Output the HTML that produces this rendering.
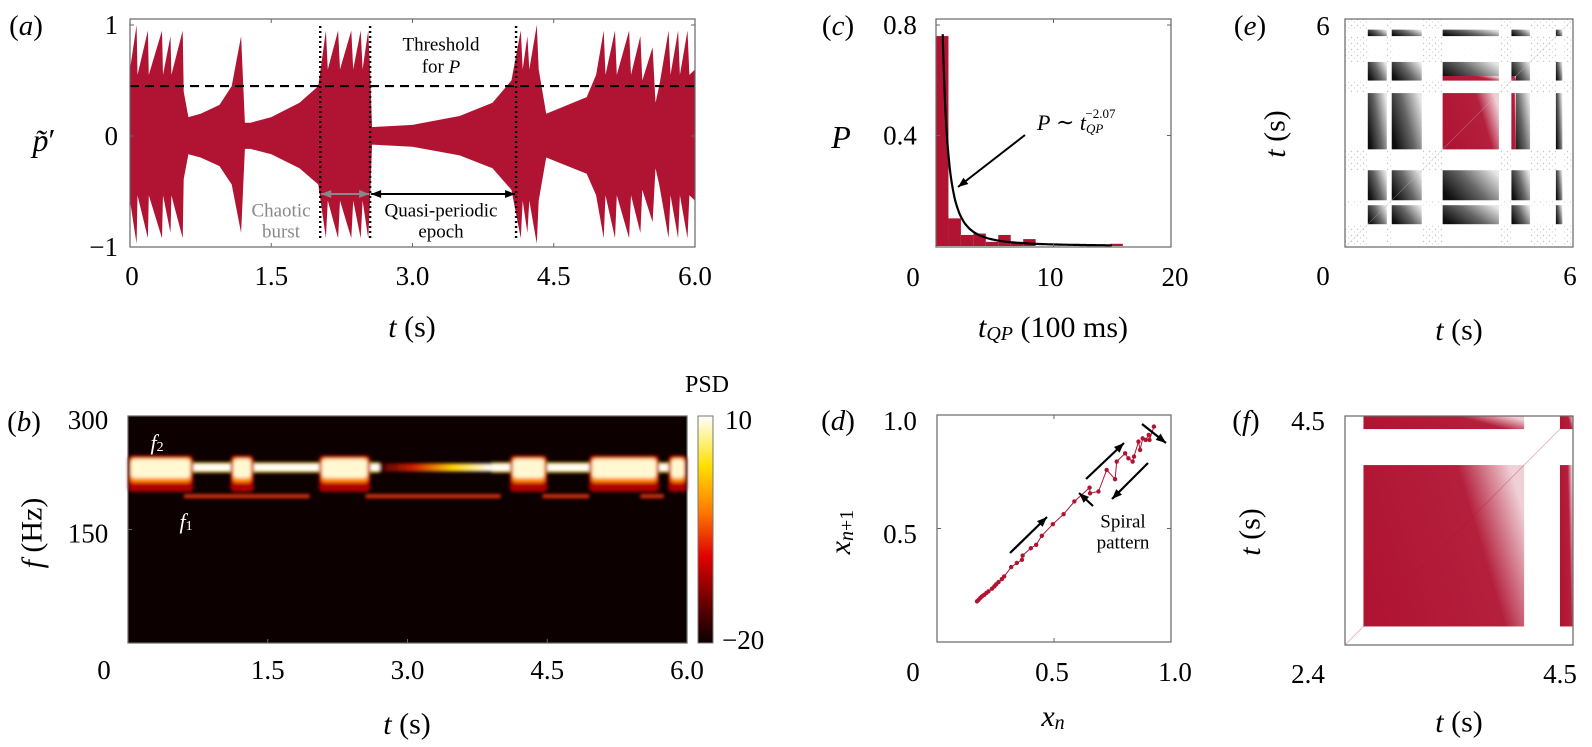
<!DOCTYPE html>
<html><head><meta charset="utf-8"><style>
html,body{margin:0;padding:0;background:#fff;}
svg{display:block;font-family:"Liberation Serif","DejaVu Serif",serif;}
text{font-family:"Liberation Serif","DejaVu Serif",serif;}
</style></head><body>
<svg id="fig" width="1592" height="747" viewBox="0 0 1592 747" xmlns="http://www.w3.org/2000/svg" font-family="Liberation Serif, serif">
<defs>
<linearGradient id="cbar" x1="0" y1="1" x2="0" y2="0">
<stop offset="0" stop-color="#0a0000"/><stop offset="0.15" stop-color="#5a0000"/>
<stop offset="0.38" stop-color="#e00000"/><stop offset="0.58" stop-color="#ff7a00"/>
<stop offset="0.78" stop-color="#ffe000"/><stop offset="1" stop-color="#ffffff"/>
</linearGradient>
<linearGradient id="qpfade" x1="0" y1="0" x2="1" y2="0">
<stop offset="0" stop-color="#4a0000"/><stop offset="0.3" stop-color="#d02000"/>
<stop offset="0.65" stop-color="#ffd000"/><stop offset="1" stop-color="#ffffff"/>
</linearGradient>
<linearGradient id="blkgrad" x1="0" y1="0.7" x2="1" y2="0.2">
<stop offset="0" stop-color="#000" stop-opacity="0.95"/><stop offset="0.5" stop-color="#000" stop-opacity="0.6"/>
<stop offset="1" stop-color="#000" stop-opacity="0.1"/>
</linearGradient>
<linearGradient id="redgrad" x1="0" y1="0.6" x2="1" y2="0.3">
<stop offset="0" stop-color="#b01432" stop-opacity="1"/><stop offset="0.7" stop-color="#b01432" stop-opacity="0.95"/>
<stop offset="1" stop-color="#b01432" stop-opacity="0.2"/>
</linearGradient>
<pattern id="speck" width="6" height="6" patternUnits="userSpaceOnUse">
<rect width="6" height="6" fill="#fff"/><circle cx="1.5" cy="1.5" r="0.7" fill="#c4c4c4"/><circle cx="4.5" cy="4" r="0.6" fill="#d0d0d0"/>
</pattern>
<filter id="blur1"><feGaussianBlur stdDeviation="1.6"/></filter>
</defs>
<g id="root"></g>
</svg>
<script>
// ---------- data ----------
// panel a: envelope knots [t (s), amplitude]
const envelopeKnots = [[0,0.6],[0.07,1.0],[0.08,0.55],[0.19,0.95],[0.2,0.55],[0.34,0.95],[0.35,0.55],[0.43,0.9],[0.44,0.55],[0.56,0.95],[0.57,0.4],[0.62,0.17],[0.75,0.2],[0.95,0.28],[1.08,0.45],[1.18,0.9],[1.22,0.12],[1.28,0.12],[1.5,0.17],[1.8,0.3],[2.0,0.45],[2.08,0.95],[2.1,0.6],[2.21,0.95],[2.23,0.6],[2.35,0.95],[2.37,0.6],[2.45,0.95],[2.47,0.6],[2.53,0.95],[2.55,0.6],[2.57,0.08],[3.0,0.1],[3.5,0.18],[3.85,0.3],[4.05,0.5],[4.15,0.95],[4.17,0.6],[4.22,0.9],[4.24,0.6],[4.32,1.0],[4.34,0.6],[4.42,0.2],[4.85,0.35],[4.95,0.55],[5.03,0.95],[5.05,0.55],[5.15,0.95],[5.17,0.55],[5.3,0.95],[5.32,0.55],[5.42,0.9],[5.44,0.5],[5.55,0.8],[5.58,0.3],[5.62,0.45],[5.72,0.95],[5.74,0.55],[5.82,0.95],[5.84,0.55],[5.92,0.95],[5.94,0.55],[6.0,0.6]];
const threshold = 0.45;
const epochMarks = [2.02, 2.55, 4.1];
const aTicksX = [0, 1.5, 3.0, 4.5, 6.0];
const aTickLabelsX = ["0", "1.5", "3.0", "4.5", "6.0"];
// panel b
const burstIntervals = [[0,0.7],[1.1,1.35],[2.05,2.6],[4.1,4.5],[4.95,5.7],[5.8,6.0]];
const f2Freq = 232;
const f1Freq = 194;
const f1Segments = [[0.6,1.95],[2.55,4.0],[4.45,4.95],[5.5,5.75]];
const f2WhiteSegs = [[0,2.7],[3.9,6.0]];
const f2FadeSeg = [2.7,3.9];
// panel c
const histBinWidth = 1.06;
const histValues = [0.76,0.10,0.04,0.045,0.015,0.04,0.015,0.025,0,0,0,0,0,0,0.008];
const fitExponent = -2.07;
const fitA = 0.72;
const fitShift = 0.4;
// panel d: return map points [x_n, x_{n+1}]
const mapPoints = [[0.171,0.179],[0.178,0.186],[0.185,0.194],[0.192,0.201],[0.202,0.208],[0.211,0.216],[0.22,0.223],[0.235,0.235],[0.245,0.245],[0.253,0.254],[0.263,0.264],[0.277,0.277],[0.287,0.289],[0.317,0.33],[0.341,0.348],[0.363,0.362],[0.366,0.381],[0.401,0.413],[0.424,0.428],[0.448,0.468],[0.495,0.519],[0.541,0.563],[0.587,0.619],[0.652,0.68],[0.654,0.655],[0.69,0.663],[0.725,0.758],[0.761,0.717],[0.768,0.795],[0.804,0.831],[0.818,0.809],[0.836,0.795],[0.842,0.817],[0.861,0.883],[0.868,0.846],[0.879,0.897],[0.892,0.89],[0.905,0.912],[0.908,0.89],[0.927,0.949]];
// panels e,f: quasi-periodic intervals (s)
const qpIntervals = [[0.6,1.1],[1.23,2.02],[2.57,4.05],[4.38,4.87],[5.55,5.72]];
const zoomWindow = [2.4, 4.5];

// ---------- helpers ----------
const NS = "http://www.w3.org/2000/svg";
const root = document.getElementById("root");
function el(tag, attrs, parent) {
  const e = document.createElementNS(NS, tag);
  for (const k in attrs) e.setAttribute(k, attrs[k]);
  (parent || root).appendChild(e);
  return e;
}
function lin(d0, d1, r0, r1) { return v => r0 + (v - d0) / (d1 - d0) * (r1 - r0); }
function txt(x, y, s, size, opts) {
  opts = opts || {};
  const t = el("text", {x: x, y: y, "font-size": size, "font-family": "Liberation Serif, DejaVu Serif, serif", "text-anchor": opts.anchor || "middle", "dominant-baseline": "central", fill: opts.fill || "#000"});
  if (opts.italic) t.setAttribute("font-style", "italic");
  if (opts.rot) t.setAttribute("transform", "rotate(-90 " + x + " " + y + ")");
  t.innerHTML = s;
  
  
  return t;
}
function box(x0, y0, x1, y1, name) {
  const r = el("rect", {x: x0, y: y0, width: x1 - x0, height: y1 - y0, fill: "none", stroke: "#666", "stroke-width": 1.2});
  
  
}
function tickMark(x, y, dx, dy) {
  const l = el("line", {x1: x, y1: y, x2: x + dx, y2: y + dy, stroke: "#666", "stroke-width": 1});
  
  
}
function arrow(x1, y1, x2, y2, color, w, both) {
  const g = el("g", {});
  
  
  el("line", {x1: x1, y1: y1, x2: x2, y2: y2, stroke: color, "stroke-width": w}, g);
  function head(xa, ya, xb, yb) {
    const a = Math.atan2(yb - ya, xb - xa), L = 10, W = 4;
    const p = [[xb, yb], [xb - L * Math.cos(a) + W * Math.sin(a), yb - L * Math.sin(a) - W * Math.cos(a)], [xb - L * Math.cos(a) - W * Math.sin(a), yb - L * Math.sin(a) + W * Math.cos(a)]];
    el("polygon", {points: p.map(q => q.join(",")).join(" "), fill: color}, g);
  }
  head(x1, y1, x2, y2);
  if (both) head(x2, y2, x1, y1);
}
const RED = "#b01432";

// ---------- panel a ----------
(function () {
  const X = lin(0, 6, 130, 695), Y = lin(-1, 1, 247, 25);
  const g = el("g", {});
  
  
  const up = envelopeKnots.map(k => [X(k[0]), Y(k[1])]);
  const lo = envelopeKnots.slice().reverse().map(k => [X(k[0]), Y(-k[1] * 0.97)]);
  el("polygon", {points: up.concat(lo).map(p => p[0].toFixed(1) + "," + p[1].toFixed(1)).join(" "), fill: RED}, g);
  const th = el("line", {x1: X(0), x2: X(6), y1: Y(threshold), y2: Y(threshold), stroke: "#000", "stroke-width": 2.2, "stroke-dasharray": "9,6"});
  
  
  epochMarks.forEach(t => {
    const l = el("line", {x1: X(t), x2: X(t), y1: 26, y2: 240, stroke: "#000", "stroke-width": 2.4, "stroke-dasharray": "2,3"});
    
    
  });
  arrow(X(epochMarks[0]) + 1, 194, X(epochMarks[1]) - 1, 194, "#888", 2, true);
  arrow(X(epochMarks[1]) + 1, 194, X(epochMarks[2]) - 1, 194, "#000", 2, true);
  box(130, 19, 695, 247, "panel-a-frame");
  aTicksX.forEach((t, i) => {
    tickMark(X(t), 247, 0, -4); tickMark(X(t), 19, 0, 4);
    txt(X(t) + (i === 0 ? 2 : 0), 276, aTickLabelsX[i], 27, {name: 'x-tick-label'});
  });
  [[1, "1"], [0, "0"], [-1, "−1"]].forEach(p => { txt(118, Y(p[0]), p[1], 27, {anchor: "end", name: 'y-tick-label'}); tickMark(130, Y(p[0]), 4, 0); tickMark(695, Y(p[0]), -4, 0); });
  txt(26, 26, "(<tspan font-style='italic'>a</tspan>)", 29, {name: 'panel-a-letter'});
  txt(44, 140, "<tspan font-style='italic'>p̃</tspan>′", 32, {name: 'y-axis-title'});
  txt(412, 327, "<tspan font-style='italic'>t</tspan> (s)", 30, {name: 'x-axis-title'});
  txt(441, 45, "Threshold", 19, {name: 'threshold-label'});
  txt(441, 67, "for <tspan font-style='italic'>P</tspan>", 19, {name: 'threshold-label'});
  txt(281, 211, "Chaotic", 19, {fill: "#888", name: 'chaotic-burst-label'});
  txt(281, 232, "burst", 19, {fill: "#888", name: 'chaotic-burst-label'});
  txt(441, 211, "Quasi-periodic", 19, {name: 'quasi-periodic-label'});
  txt(441, 232, "epoch", 19, {name: 'quasi-periodic-label'});
})();

// ---------- panel b ----------
(function () {
  const X = lin(0, 6, 128, 687), Y = lin(0, 300, 643, 416);
  const g = el("g", {});
  
  
  el("rect", {x: 128, y: 416, width: 559, height: 227, fill: "#0d0000"}, g);
  const gb = el("g", {filter: "url(#blur1)"}, g);
  f1Segments.forEach(s => el("rect", {x: X(s[0]), y: Y(f1Freq) - 2, width: X(s[1]) - X(s[0]), height: 4, fill: "#d83010"}, gb));
  el("rect", {x: X(f2FadeSeg[0]), y: Y(f2Freq) - 4, width: X(f2FadeSeg[1]) - X(f2FadeSeg[0]), height: 8, fill: "url(#qpfade)"}, gb);
  f2WhiteSegs.forEach(s => {
    el("rect", {x: X(s[0]), y: Y(f2Freq) - 5, width: X(s[1]) - X(s[0]), height: 10, fill: "#ffe040"}, gb);
    el("rect", {x: X(s[0]), y: Y(f2Freq) - 3, width: X(s[1]) - X(s[0]), height: 6, fill: "#fff"}, gb);
  });
  burstIntervals.forEach(b => {
    const x0 = X(b[0]), x1 = X(b[1]);
    el("rect", {x: x0, y: Y(248), width: x1 - x0, height: Y(200) - Y(248), fill: "#b00000", rx: 4}, gb);
    el("rect", {x: x0 + 2, y: Y(245), width: x1 - x0 - 4, height: Y(212) - Y(245), fill: "#ff8800", rx: 4}, gb);
    el("rect", {x: x0 + 3, y: Y(243), width: x1 - x0 - 6, height: Y(218) - Y(243), fill: "#fff8d0", rx: 4}, gb);
  });
  box(128, 416, 687, 643, "panel-b-frame");
  const cb = el("rect", {x: 698, y: 416, width: 15, height: 227, fill: "url(#cbar)", stroke: "#777", "stroke-width": 1});
  
  
  txt(725, 420, "10", 27, {anchor: "start", name: 'colorbar-tick'});
  txt(722, 640, "−20", 27, {anchor: "start", name: 'colorbar-tick'});
  txt(707, 385, "PSD", 24, {name: 'colorbar-title'});
  aTicksX.forEach((t, i) => { tickMark(X(t), 643, 0, -4); txt(i === 0 ? 104 : X(t), 670, aTickLabelsX[i], 27, {name: 'x-tick-label'}); });
  [[300, "300"], [150, "150"]].forEach(p => { txt(88, Y(p[0]) + 4, p[1], 27, {name: 'y-tick-label'}); tickMark(128, Y(p[0]), 4, 0); });
  txt(24, 422, "(<tspan font-style='italic'>b</tspan>)", 29, {name: 'panel-b-letter'});
  txt(32, 533, "<tspan font-style='italic'>f</tspan> (Hz)", 30, {rot: true, name: 'y-axis-title'});
  txt(407, 724, "<tspan font-style='italic'>t</tspan> (s)", 30, {name: 'x-axis-title'});
  txt(157, 442, "<tspan font-style='italic'>f</tspan><tspan font-size='14' dy='5'>2</tspan>", 22, {fill: "#fff", name: 'f2-label'});
  txt(186, 521, "<tspan font-style='italic'>f</tspan><tspan font-size='14' dy='5'>1</tspan>", 22, {fill: "#fff", name: 'f1-label'});
})();

// ---------- panel c ----------
(function () {
  const X = lin(0, 20, 936, 1171), Y = lin(0, 0.8, 246, 25);
  const g = el("g", {});
  
  
  histValues.forEach((v, i) => {
    if (v <= 0) return;
    const r = el("rect", {x: X(i * histBinWidth), y: Y(v), width: X((i + 1) * histBinWidth) - X(i * histBinWidth), height: Y(0) - Y(v), fill: RED}, g);
    
    
  });
  const pts = [];
  for (let t = 0.57; t <= 15; t += 0.05) pts.push(X(t).toFixed(1) + "," + Y(fitA * Math.pow(t + fitShift, fitExponent)).toFixed(1));
  const fit = el("polyline", {points: pts.join(" "), fill: "none", stroke: "#000", "stroke-width": 2.2});
  
  
  box(936, 19, 1171, 247, "panel-c-frame");
  [0, 10, 20].forEach(t => { tickMark(X(t), 247, 0, -4); tickMark(X(t), 19, 0, 4); });
  [[0.8, "0.8"], [0.4, "0.4"]].forEach(p => { txt(900, Y(p[0]), p[1], 27, {name: 'y-tick-label'}); tickMark(936, Y(p[0]), 4, 0); tickMark(1171, Y(p[0]), -4, 0); });
  txt(913, 277, "0", 27, {name: 'origin-tick-label'});
  txt(1050, 277, "10", 27, {name: 'x-tick-label'});
  txt(1175, 277, "20", 27, {name: 'x-tick-label'});
  txt(838, 26, "(<tspan font-style='italic'>c</tspan>)", 29, {name: 'panel-c-letter'});
  txt(841, 137, "P", 32, {italic: true, name: 'y-axis-title'});
  txt(1053, 327, "<tspan font-style='italic'>t</tspan><tspan font-style='italic' font-size='20' dy='7'>QP</tspan><tspan dy='-7'> (100 ms)</tspan>", 30, {name: 'x-axis-title'});
  txt(1037, 122, "<tspan font-style='italic'>P</tspan> ∼ <tspan font-style='italic'>t</tspan><tspan font-style='italic' font-size='13' dy='6'>QP</tspan><tspan font-size='13' dy='-15' dx='-18'>−2.07</tspan>", 22, {anchor: "start", name: 'fit-annotation'});
  arrow(1025, 135, 958, 187, "#000", 2, false);
})();

// ---------- panel d ----------
(function () {
  const X = lin(0, 1, 937, 1171), Y = lin(0, 1, 642, 415);
  const g = el("g", {});
  
  
  el("polyline", {points: mapPoints.map(p => X(p[0]).toFixed(1) + "," + Y(p[1]).toFixed(1)).join(" "), fill: "none", stroke: RED, "stroke-width": 1}, g);
  mapPoints.forEach(p => {
    const c = el("circle", {cx: X(p[0]), cy: Y(p[1]), r: 2.2, fill: RED}, g);
    
    
  });
  box(937, 415, 1171, 642, "panel-d-frame");
  [0.5, 1].forEach(v => { tickMark(X(v), 642, 0, -4); tickMark(X(v), 415, 0, 4); tickMark(937, Y(v), 4, 0); tickMark(1171, Y(v), -4, 0); });
  txt(900, 421, "1.0", 27, {name: 'y-tick-label'});
  txt(900, 534, "0.5", 27, {name: 'y-tick-label'});
  txt(913, 672, "0", 27, {name: 'origin-tick-label'});
  txt(1052, 672, "0.5", 27, {name: 'x-tick-label'});
  txt(1175, 672, "1.0", 27, {name: 'x-tick-label'});
  txt(838, 421, "(<tspan font-style='italic'>d</tspan>)", 29, {name: 'panel-d-letter'});
  txt(840, 532, "<tspan font-style='italic'>x</tspan><tspan font-style='italic' font-size='20' dy='7'>n</tspan><tspan font-size='20'>+1</tspan>", 30, {rot: true, name: 'y-axis-title'});
  txt(1053, 716, "<tspan font-style='italic'>x</tspan><tspan font-style='italic' font-size='20' dy='7'>n</tspan>", 30, {name: 'x-axis-title'});
  txt(1123, 522, "Spiral", 19, {name: 'spiral-label'});
  txt(1123, 543, "pattern", 19, {name: 'spiral-label'});
  arrow(1010, 553, 1047, 517, "#000", 2.2, false);
  arrow(1086, 479, 1124, 443, "#000", 2.2, false);
  arrow(1148, 463, 1112, 499, "#000", 2.2, false);
  arrow(1093, 506, 1079, 493, "#000", 2.2, false);
  arrow(1142, 424, 1166, 443, "#000", 2.2, false);
})();

// ---------- panels e, f: recurrence plots ----------
function recurrence(d0, d1, x0, x1, y0, y1, mode, name) {
  const X = lin(d0, d1, x0, x1), Y = lin(d0, d1, y1, y0);
  const g = el("g", {});
  
  
  if (mode === "full") el("rect", {x: x0, y: y0, width: x1 - x0, height: y1 - y0, fill: "url(#speck)"}, g);
  const clip = iv => [Math.max(iv[0], d0), Math.min(iv[1], d1)];
  const inWin = iv => [Math.max(iv[0], zoomWindow[0]), Math.min(iv[1], zoomWindow[1])];
  if (mode === "full") {
    qpIntervals.forEach(a => {
      el("rect", {x: X(a[0]), y: y0, width: X(a[1]) - X(a[0]), height: y1 - y0, fill: "#fff", "fill-opacity": 0.9}, g);
      el("rect", {x: x0, y: Y(a[1]), width: x1 - x0, height: Y(a[0]) - Y(a[1]), fill: "#fff", "fill-opacity": 0.9}, g);
    });
  }
  qpIntervals.forEach(a => qpIntervals.forEach(b => {
    const ca = clip(a), cb = clip(b);
    if (ca[1] <= ca[0] || cb[1] <= cb[0]) return;
    if (mode === "full") {
      const r = el("rect", {x: X(ca[0]), y: Y(cb[1]), width: X(ca[1]) - X(ca[0]), height: Y(cb[0]) - Y(cb[1]), fill: "url(#blkgrad)"}, g);
      
      
    }
    const wa = inWin(ca), wb = inWin(cb);
    if (wa[1] > wa[0] && wb[1] > wb[0]) {
      if (mode === "full") el("rect", {x: X(wa[0]), y: Y(wb[1]), width: X(wa[1]) - X(wa[0]), height: Y(wb[0]) - Y(wb[1]), fill: "#fff"}, g);
      const r2 = el("rect", {x: X(wa[0]), y: Y(wb[1]), width: X(wa[1]) - X(wa[0]), height: Y(wb[0]) - Y(wb[1]), fill: "url(#redgrad)"}, g);
      
      
    }
  }));
  el("line", {x1: x0, y1: y1, x2: x1, y2: y0, stroke: mode === "full" ? "#bbb" : RED, "stroke-width": 0.8, "stroke-opacity": 0.35}, g);
  box(x0, y0, x1, y1, name + "-frame");
}
recurrence(0, 6, 1345, 1573, 19, 247, "full", "recurrence-plot-e");
txt(1323, 26, "6", 27, {name: 'y-tick-label'});
txt(1323, 276, "0", 27, {name: 'origin-tick-label'});
txt(1570, 276, "6", 27, {name: 'x-tick-label'});
txt(1250, 26, "(<tspan font-style='italic'>e</tspan>)", 29, {name: 'panel-e-letter'});
txt(1275, 134, "<tspan font-style='italic'>t</tspan> (s)", 30, {rot: true, name: 'y-axis-title'});
txt(1459, 330, "<tspan font-style='italic'>t</tspan> (s)", 30, {name: 'x-axis-title'});

recurrence(zoomWindow[0], zoomWindow[1], 1345, 1573, 416, 645, "zoom", "recurrence-plot-f");
txt(1308, 421, "4.5", 27, {name: 'y-tick-label'});
txt(1308, 674, "2.4", 27, {name: 'origin-tick-label'});
txt(1560, 674, "4.5", 27, {name: 'x-tick-label'});
txt(1246, 421, "(<tspan font-style='italic'>f</tspan>)", 29, {name: 'panel-f-letter'});
txt(1250, 532, "<tspan font-style='italic'>t</tspan> (s)", 30, {rot: true, name: 'y-axis-title'});
txt(1459, 722, "<tspan font-style='italic'>t</tspan> (s)", 30, {name: 'x-axis-title'});
</script>
</body></html>
